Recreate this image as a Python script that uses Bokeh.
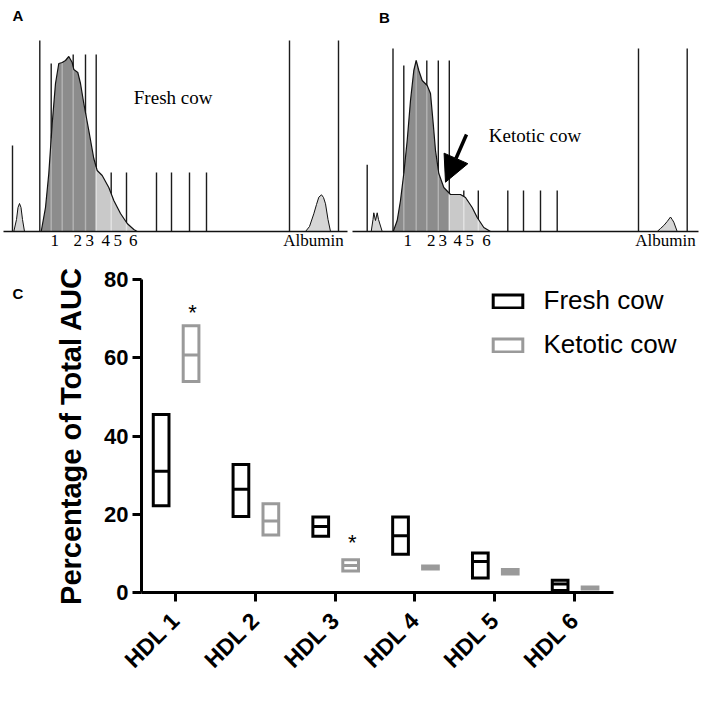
import math
import numpy as np
from bokeh.plotting import figure
from bokeh.models import Range1d, FixedTicker, Legend, LegendItem, Arrow, NormalHead
from bokeh.layouts import column, row
from bokeh.embed import file_html
from bokeh.resources import INLINE
from bokeh.core.properties import value

SERIF = "Liberation Serif"
SANS = "Liberation Sans"

# ---------------- Panel A: fresh cow densitometry trace (mobility, density) ----------------
fresh_x = [40.7, 45.0, 48.3, 51.7, 55.0, 58.3, 61.7, 65.0, 68.3, 71.7, 73.3, 77.3, 80.0, 83.3,
           88.3, 93.3, 96.7, 101.7, 108.3, 113.3, 120.0, 126.7, 133.3, 136.7]
fresh_d = [0, 24, 58, 108, 148, 168, 169, 171, 175, 169, 162, 159, 148, 128,
           101, 73, 61, 56, 44, 31, 18, 8, 2, 0]
fresh_pre_x = [13.3, 16.0, 17.5, 19.0, 20.5, 22.0, 24.0]
fresh_pre_d = [0, 12, 24, 28, 24, 12, 0]
fresh_alb_x = [305, 309, 313.3, 316, 318.3, 321, 323, 325, 327.5, 330]
fresh_alb_d = [0, 5, 17.7, 27, 34.3, 36.7, 34, 27.7, 12, 0]
fresh_lines_x = [12, 39.3, 50.7, 61.7, 72.7, 85, 95.7, 110.7, 126, 156, 171, 189, 206, 289, 338]
fresh_lines_top = [86, 191, 168, 150, 177, 177, 177, 59, 59, 59, 59, 59, 59, 191, 191]
fresh_split = 95.7
fresh_band_x = [54.3, 77.3, 89.3, 105.3, 117.3, 132.7]
fresh_alb_label_x = 313

# ---------------- Panel B: ketotic cow densitometry trace ----------------
ket_x = [42.7, 46.7, 50.0, 53.3, 56.7, 60.0, 63.3, 65.7, 68.3, 71.7, 76.7, 80.0, 82.7, 85.0,
         88.3, 93.3, 100.0, 110.0, 115.0, 121.7, 126.7, 133.3, 140.0]
ket_d = [0, 11, 31, 58, 91, 131, 161, 171, 161, 151, 146, 138, 108, 81,
         58, 44, 37, 37, 34, 24, 14, 4, 0]
ket_pre_x = [20.7, 22.5, 23.3, 25.0, 26.7, 28.0, 31.7]
ket_pre_d = [0, 12, 18.7, 11, 18.7, 12, 0]
ket_alb_x = [306.7, 310, 313.3, 316.7, 320, 321.7, 323.3, 326.7]
ket_alb_d = [0, 3, 6, 10, 14.5, 12, 9.3, 0]
ket_lines_x = [16.7, 42.5, 53.3, 65.7, 76.3, 87.8, 98.8, 113.3, 127.8, 157.3, 173, 190, 206.7, 288, 336.7]
ket_lines_top = [66.7, 183, 166, 150, 171, 171, 171, 41, 41, 41, 41, 41, 41, 183, 183]
ket_split = 98.8
ket_band_x = [57.3, 80.7, 92.3, 107.3, 119.3, 136.0]
ket_alb_label_x = 315
ket_arrow_from = (116, 97)
ket_arrow_to = (95, 49.3)

band_labels = ["1", "2", "3", "4", "5", "6"]

# ---------------- Panel C: percentage of total AUC ----------------
classes = ["HDL 1", "HDL 2", "HDL 3", "HDL 4", "HDL 5", "HDL 6"]
fresh_low = [22.2, 19.4, 14.4, 9.8, 3.7, 0.5]
fresh_mid = [31.0, 26.4, 16.9, 14.5, 7.9, 2.2]
fresh_high = [45.5, 32.7, 19.3, 19.3, 10.1, 3.1]
ket_low = [53.9, 14.7, 5.5, 6.0, 4.7, 0.9]
ket_mid = [60.7, 18.3, 6.9, 6.4, 5.3, 1.15]
ket_high = [68.2, 22.7, 8.4, 6.8, 5.9, 1.4]
sig_class = [1, 3]
sig_y = [72.6, 13.9]

DARK = "#8c8c8c"
LIGHT = "#c9c9c9"
PEAK = "#d6d6d6"
LINE = "#1c1c1c"
TAG_SIZE = "15px"


def trace_panel(xr, yr, tx, td, split, px, pd_, ax, ad, lx, ltop, base, band_x, alb_x,
                tag, tag_x, tag_y, note, note_x, note_y):
    p = figure(width=351, height=250, x_range=Range1d(*xr), y_range=Range1d(*yr),
               output_backend="svg", toolbar_location=None, min_border=0,
               x_axis_type=None, y_axis_type=None)
    p.grid.visible = False
    p.outline_line_color = None
    p.background_fill_color = "white"
    tx = np.asarray(tx, float)
    td = np.asarray(td, float)
    # vertical band separators
    p.segment(x0=lx, y0=[0] * len(lx), x1=lx, y1=ltop, line_color=LINE, line_width=1.4)
    # fills
    sd = float(np.interp(split, tx, td))
    m1 = tx < split
    m2 = tx > split
    p.varea(x=list(tx[m1]) + [split], y1=0, y2=list(td[m1]) + [sd], fill_color=DARK)
    p.varea(x=[split] + list(tx[m2]), y1=0, y2=[sd] + list(td[m2]), fill_color=LIGHT)
    p.varea(x=px, y1=0, y2=pd_, fill_color=PEAK)
    p.varea(x=ax, y1=0, y2=ad, fill_color=PEAK)
    # separators inside the filled area appear light
    ix, iy, ic = [], [], []
    for xv in lx:
        if tx[0] < xv < tx[-1]:
            ix.append(xv)
            iy.append(float(np.interp(xv, tx, td)))
            ic.append("#b4b4b4" if xv < split else "#e4e4e4")
    p.segment(x0=ix, y0=[0] * len(ix), x1=ix, y1=iy, line_color=ic, line_width=1.4)
    # outlines
    p.line(tx, td, line_color="#111111", line_width=1.2)
    p.line(px, pd_, line_color="#111111", line_width=1.0)
    p.line(ax, ad, line_color="#111111", line_width=1.0)
    p.segment(x0=[base[0]], y0=[0], x1=[base[1]], y1=[0], line_color="#111111", line_width=1.5)
    # labels
    p.text(x=band_x, y=[-9] * len(band_x), text=band_labels, text_font=value(SERIF),
           text_font_size="17px", text_align="center", text_baseline="middle", text_color="black")
    p.text(x=[alb_x], y=[-9], text=["Albumin"], text_font=value(SERIF),
           text_font_size="17px", text_align="center", text_baseline="middle", text_color="black")
    p.text(x=[note_x], y=[note_y], text=[note], text_font=value(SERIF),
           text_font_size="19px", text_align="left", text_baseline="middle", text_color="black")
    p.text(x=[tag_x], y=[tag_y], text=[tag], text_font=value(SANS), text_font_style="bold",
           text_font_size=TAG_SIZE, text_align="center", text_baseline="middle", text_color="black")
    return p


pa = trace_panel((0, 351), (-19, 231), fresh_x, fresh_d, fresh_split, fresh_pre_x, fresh_pre_d,
                 fresh_alb_x, fresh_alb_d, fresh_lines_x, fresh_lines_top, (3, 347),
                 fresh_band_x, fresh_alb_label_x, "A", 17.5, 216, "Fresh cow", 133.3, 134)
pb = trace_panel((1, 352), (-19, 231), ket_x, ket_d, ket_split, ket_pre_x, ket_pre_d,
                 ket_alb_x, ket_alb_d, ket_lines_x, ket_lines_top, (2, 348),
                 ket_band_x, ket_alb_label_x, "B", 34, 214, "Ketotic cow", 138.3, 96)
pb.add_layout(Arrow(end=NormalHead(size=26, fill_color="black", line_color="black"),
                    x_start=ket_arrow_from[0], y_start=ket_arrow_from[1],
                    x_end=ket_arrow_to[0], y_end=ket_arrow_to[1],
                    line_color="black", line_width=3.5))

# ---------------- Panel C ----------------
FRESH_DODGE = -0.18
KET_DODGE = 0.195
BW = 0.197
GREY = "#9a9a9a"
X_START, X_END_AXIS = 0.574, 6.489

# narrow strip carrying the panel tag "C"
ptag = figure(width=40, height=454, x_range=Range1d(0, 40), y_range=Range1d(0, 454),
              output_backend="svg", toolbar_location=None, min_border=0,
              x_axis_type=None, y_axis_type=None)
ptag.grid.visible = False
ptag.outline_line_color = None
ptag.text(x=[17.5], y=[433.5], text=["C"], text_font=value(SANS), text_font_style="bold",
          text_font_size=TAG_SIZE, text_align="center", text_baseline="middle", text_color="black")

pc = figure(width=662, height=454, x_range=Range1d(X_START, X_START + 556 / 79.8),
            y_range=Range1d(0, 80), output_backend="svg", toolbar_location=None,
            min_border_left=101, min_border_right=5, min_border_top=29, min_border_bottom=112)
pc.grid.visible = False
pc.outline_line_color = None

xs = np.arange(1, len(classes) + 1)
fx = xs + FRESH_DODGE
kx = xs + KET_DODGE
fr = pc.quad(left=fx - BW / 2, right=fx + BW / 2, bottom=fresh_low, top=fresh_high,
             fill_color=None, line_color="black", line_width=3, line_join="miter")
pc.segment(x0=fx - BW / 2, x1=fx + BW / 2, y0=fresh_mid, y1=fresh_mid, line_color="black", line_width=3)
kr = pc.quad(left=kx - BW / 2, right=kx + BW / 2, bottom=ket_low, top=ket_high,
             fill_color=None, line_color=GREY, line_width=3, line_join="miter")
pc.segment(x0=kx - BW / 2, x1=kx + BW / 2, y0=ket_mid, y1=ket_mid, line_color=GREY, line_width=3)

pc.text(x=[c + KET_DODGE + 0.02 for c in sig_class], y=sig_y, text=["*"] * len(sig_class),
        text_font=value(SANS), text_font_size="22px", text_align="center",
        text_baseline="alphabetic", y_offset=4, text_color="black")

pc.yaxis.ticker = FixedTicker(ticks=[0, 20, 40, 60, 80])
pc.xaxis.ticker = FixedTicker(ticks=[float(v) for v in xs])
pc.xaxis.bounds = (X_START, X_END_AXIS)
pc.xaxis.major_label_overrides = {int(v): c for v, c in zip(xs, classes)}
for axis in (pc.xaxis[0], pc.yaxis[0]):
    axis.axis_line_width = 3
    axis.axis_line_color = "black"
    axis.major_tick_line_width = 3
    axis.major_tick_line_color = "black"
    axis.major_tick_out = 9
    axis.major_tick_in = 0
    axis.minor_tick_line_color = None
    axis.major_label_text_font = SANS
    axis.major_label_text_font_style = "bold"
    axis.major_label_text_color = "black"
pc.yaxis.major_label_text_font_size = "22px"
pc.xaxis.major_label_text_font_size = "23px"
pc.yaxis.major_label_standoff = 4
pc.xaxis.major_label_standoff = 15
pc.xaxis.major_label_orientation = math.pi / 4
pc.yaxis.axis_label = "Percentage of Total AUC"
pc.yaxis.axis_label_text_font = SANS
pc.yaxis.axis_label_text_font_style = "bold"
pc.yaxis.axis_label_text_font_size = "29px"
pc.yaxis.axis_label_text_color = "black"
pc.yaxis.axis_label_standoff = 14

legend = Legend(items=[LegendItem(label="Fresh cow", renderers=[fr]),
                       LegendItem(label="Ketotic cow", renderers=[kr])],
                location=(347.5, 232), glyph_width=37, glyph_height=16, label_standoff=18,
                spacing=13, padding=0, margin=0, border_line_color=None,
                background_fill_alpha=0, label_text_font=SANS, label_text_font_size="26px",
                label_text_color="black")
pc.add_layout(legend)

layout = column(row(pa, pb), row(ptag, pc))
open("out.html", "w").write(file_html(layout, INLINE))
